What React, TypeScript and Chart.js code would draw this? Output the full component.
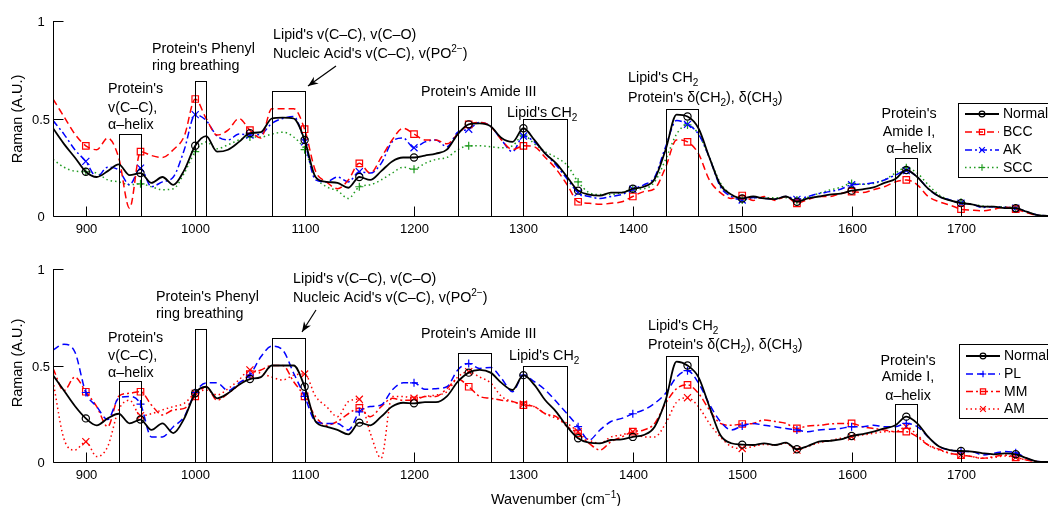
import React, { useEffect, useRef } from 'react';
import { Chart, registerables } from 'chart.js';

Chart.register(...registerables);

// ---------------- DATA ----------------
const wavenumbers = [
  870, 880, 890, 900, 910, 920, 930, 940, 950, 960,
  970, 980, 990, 1000, 1010, 1020, 1030, 1040, 1050, 1060,
  1070, 1080, 1090, 1100, 1110, 1120, 1130, 1140, 1150, 1160,
  1170, 1180, 1190, 1200, 1210, 1220, 1230, 1240, 1250, 1260,
  1270, 1280, 1290, 1300, 1310, 1320, 1330, 1340, 1350, 1360,
  1370, 1380, 1390, 1400, 1410, 1420, 1430, 1440, 1450, 1460,
  1470, 1480, 1490, 1500, 1510, 1520, 1530, 1540, 1550, 1560,
  1570, 1580, 1590, 1600, 1610, 1620, 1630, 1640, 1650, 1660,
  1670, 1680, 1690, 1700, 1710, 1720, 1730, 1740, 1750, 1760,
  1770, 1780,
];

const topNormal = [
  0.45, 0.37, 0.30, 0.227, 0.20, 0.23, 0.265, 0.21, 0.22, 0.17,
  0.20, 0.16, 0.235, 0.36, 0.41, 0.33, 0.34, 0.38, 0.425, 0.43,
  0.50, 0.505, 0.50, 0.39, 0.20, 0.175, 0.17, 0.145, 0.20, 0.185,
  0.23, 0.28, 0.30, 0.30, 0.31, 0.32, 0.34, 0.42, 0.47, 0.475,
  0.46, 0.40, 0.38, 0.45, 0.39, 0.32, 0.27, 0.20, 0.13, 0.11,
  0.105, 0.12, 0.12, 0.14, 0.15, 0.19, 0.34, 0.52, 0.51, 0.45,
  0.30, 0.16, 0.11, 0.09, 0.10, 0.09, 0.087, 0.10, 0.073, 0.09,
  0.10, 0.11, 0.115, 0.13, 0.137, 0.147, 0.17, 0.19, 0.236, 0.20,
  0.14, 0.10, 0.08, 0.066, 0.06, 0.048, 0.048, 0.04, 0.04, 0.022,
  0.005, 0,
];
const topBCC = [
  0.60, 0.51, 0.42, 0.36, 0.34, 0.40, 0.30, 0.04, 0.33, 0.31,
  0.30, 0.34, 0.41, 0.60, 0.50, 0.415, 0.44, 0.50, 0.44, 0.40,
  0.55, 0.55, 0.55, 0.445, 0.23, 0.175, 0.14, 0.185, 0.27, 0.22,
  0.30, 0.39, 0.45, 0.42, 0.39, 0.39, 0.37, 0.42, 0.47, 0.48,
  0.46, 0.39, 0.34, 0.36, 0.355, 0.30, 0.24, 0.16, 0.073, 0.065,
  0.06, 0.065, 0.073, 0.10, 0.125, 0.14, 0.25, 0.39, 0.38, 0.32,
  0.185, 0.12, 0.09, 0.105, 0.08, 0.10, 0.08, 0.10, 0.065, 0.085,
  0.10, 0.10, 0.115, 0.125, 0.12, 0.135, 0.15, 0.175, 0.185, 0.16,
  0.10, 0.073, 0.056, 0.035, 0.03, 0.027, 0.035, 0.045, 0.035, 0.017,
  0.003, 0,
];
const topAK = [
  0.49, 0.42, 0.34, 0.28, 0.20, 0.25, 0.235, 0.16, 0.245, 0.15,
  0.175, 0.20, 0.34, 0.52, 0.49, 0.41, 0.39, 0.42, 0.415, 0.42,
  0.475, 0.50, 0.51, 0.38, 0.185, 0.175, 0.20, 0.175, 0.227, 0.22,
  0.27, 0.38, 0.40, 0.35, 0.38, 0.39, 0.355, 0.43, 0.445, 0.48,
  0.46, 0.39, 0.33, 0.41, 0.38, 0.32, 0.26, 0.19, 0.12, 0.10,
  0.09, 0.10, 0.11, 0.137, 0.16, 0.20, 0.355, 0.49, 0.47, 0.42,
  0.30, 0.15, 0.10, 0.082, 0.095, 0.09, 0.087, 0.10, 0.085, 0.10,
  0.115, 0.125, 0.137, 0.16, 0.163, 0.17, 0.185, 0.21, 0.233, 0.20,
  0.14, 0.10, 0.082, 0.065, 0.06, 0.044, 0.048, 0.044, 0.04, 0.022,
  0.005, 0,
];
const topSCC = [
  0.29, 0.25, 0.23, 0.227, 0.22, 0.185, 0.175, 0.16, 0.165, 0.15,
  0.135, 0.14, 0.22, 0.33, 0.38, 0.345, 0.365, 0.39, 0.405, 0.405,
  0.42, 0.43, 0.405, 0.34, 0.20, 0.15, 0.13, 0.09, 0.15, 0.16,
  0.185, 0.22, 0.25, 0.24, 0.27, 0.29, 0.30, 0.34, 0.36, 0.36,
  0.355, 0.35, 0.36, 0.415, 0.37, 0.33, 0.30, 0.26, 0.175, 0.12,
  0.11, 0.11, 0.12, 0.137, 0.14, 0.175, 0.29, 0.42, 0.467, 0.42,
  0.30, 0.17, 0.11, 0.082, 0.094, 0.094, 0.094, 0.094, 0.082, 0.096,
  0.116, 0.133, 0.147, 0.167, 0.163, 0.167, 0.185, 0.22, 0.248, 0.22,
  0.16, 0.108, 0.082, 0.07, 0.06, 0.051, 0.048, 0.048, 0.04, 0.022,
  0.005, 0,
];

const botNormal = [
  0.45, 0.37, 0.29, 0.226, 0.19, 0.226, 0.25, 0.20, 0.22, 0.166,
  0.20, 0.15, 0.226, 0.356, 0.39, 0.33, 0.356, 0.40, 0.43, 0.44,
  0.50, 0.50, 0.50, 0.39, 0.21, 0.183, 0.166, 0.143, 0.204, 0.19,
  0.235, 0.287, 0.307, 0.304, 0.31, 0.31, 0.34, 0.416, 0.463, 0.477,
  0.463, 0.41, 0.373, 0.45, 0.40, 0.32, 0.26, 0.183, 0.123, 0.10,
  0.097, 0.114, 0.117, 0.13, 0.14, 0.183, 0.32, 0.52, 0.50, 0.44,
  0.287, 0.14, 0.097, 0.09, 0.088, 0.097, 0.088, 0.10, 0.066, 0.083,
  0.105, 0.11, 0.117, 0.135, 0.145, 0.157, 0.174, 0.19, 0.235, 0.20,
  0.13, 0.08, 0.062, 0.057, 0.054, 0.045, 0.04, 0.045, 0.04, 0.02,
  0.002, 0,
];
const botPL = [
  0.58, 0.61, 0.57, 0.36, 0.287, 0.22, 0.33, 0.34, 0.30, 0.13,
  0.13, 0.183, 0.235, 0.36, 0.41, 0.41, 0.37, 0.41, 0.45, 0.545,
  0.60, 0.58, 0.46, 0.34, 0.21, 0.20, 0.20, 0.166, 0.26, 0.287,
  0.295, 0.373, 0.41, 0.41, 0.377, 0.38, 0.39, 0.477, 0.51, 0.485,
  0.49, 0.433, 0.364, 0.45, 0.416, 0.373, 0.313, 0.25, 0.183, 0.114,
  0.166, 0.21, 0.226, 0.25, 0.27, 0.304, 0.356, 0.44, 0.473, 0.41,
  0.30, 0.21, 0.166, 0.187, 0.20, 0.19, 0.183, 0.174, 0.166, 0.157,
  0.166, 0.17, 0.174, 0.183, 0.183, 0.19, 0.183, 0.183, 0.20, 0.183,
  0.13, 0.08, 0.062, 0.054, 0.054, 0.036, 0.045, 0.054, 0.048, 0.02,
  0.002, 0,
];
const botMM = [
  0.485, 0.37, 0.44, 0.364, 0.287, 0.183, 0.34, 0.356, 0.364, 0.295,
  0.244, 0.27, 0.278, 0.34, 0.39, 0.32, 0.356, 0.40, 0.456, 0.477,
  0.50, 0.50, 0.416, 0.34, 0.235, 0.19, 0.21, 0.25, 0.28, 0.235,
  0.287, 0.33, 0.32, 0.32, 0.34, 0.34, 0.38, 0.43, 0.39, 0.34,
  0.33, 0.32, 0.313, 0.295, 0.287, 0.25, 0.235, 0.183, 0.148, 0.097,
  0.062, 0.105, 0.13, 0.157, 0.166, 0.20, 0.304, 0.38, 0.40, 0.356,
  0.27, 0.20, 0.19, 0.197, 0.20, 0.218, 0.21, 0.20, 0.174, 0.187,
  0.19, 0.197, 0.20, 0.20, 0.183, 0.174, 0.166, 0.157, 0.157, 0.13,
  0.088, 0.066, 0.045, 0.036, 0.028, 0.019, 0.028, 0.036, 0.024, 0.01,
  0.002, 0,
];
const botAM = [
  0.42, 0.12, 0.062, 0.105, 0.028, 0.08, 0.27, 0.32, 0.24, 0.25,
  0.27, 0.287, 0.304, 0.356, 0.373, 0.347, 0.38, 0.425, 0.477, 0.46,
  0.44, 0.425, 0.45, 0.456, 0.34, 0.287, 0.235, 0.313, 0.325, 0.15,
  0.02, 0.34, 0.34, 0.33, 0.34, 0.347, 0.364, 0.44, 0.468, 0.44,
  0.41, 0.34, 0.313, 0.30, 0.287, 0.25, 0.226, 0.20, 0.157, 0.114,
  0.097, 0.13, 0.14, 0.157, 0.13, 0.13, 0.20, 0.31, 0.333, 0.287,
  0.20, 0.13, 0.08, 0.07, 0.08, 0.091, 0.088, 0.097, 0.062, 0.08,
  0.10, 0.11, 0.123, 0.13, 0.14, 0.148, 0.157, 0.157, 0.183, 0.14,
  0.088, 0.062, 0.045, 0.036, 0.028, 0.019, 0.024, 0.031, 0.024, 0.01,
  0.002, 0,
];

const xTicks = [900, 1000, 1100, 1200, 1300, 1400, 1500, 1600, 1700];
const yTicks = [0, 0.5, 1];
const yTickLabels = ['0', '0.5', '1'];

// annotation boxes (band start, band end, height)
const boxStart = [930, 1000, 1070, 1240, 1300, 1430, 1640];
const boxEnd = [950, 1010, 1100, 1270, 1340, 1460, 1660];
const boxTop = [0.42, 0.69, 0.64, 0.565, 0.5, 0.55, 0.3];

// ---------------- STYLE ----------------
const FONT = '"Liberation Sans", Arial, Helvetica, sans-serif';
const RED = '#ff0000';
const BLUE = '#0000ff';
const GREEN = '#1f9a1f';
const BLACK = '#000000';
const CANVAS_W = 1100;
const X_MIN = 870;
const X_MAX = 1800;
const PLOT_LEFT = 53;
const PLOT_RIGHT = 1070.4;
const NOTE_SIZE = 14.3;
const SMALL_SIZE = 10;

type Seg = { t: string; sub?: boolean; sup?: boolean };
type Note = { x: number; y: number; center?: boolean; segs: Seg[] };
type Series = { label: string; values: number[]; color: string; dash: number[]; width: number; marker: string; r: number };

const topSeries: Series[] = [
  { label: 'Normal', values: topNormal, color: BLACK, dash: [], width: 1.8, marker: 'circle', r: 3.6 },
  { label: 'BCC', values: topBCC, color: RED, dash: [7, 4], width: 1.5, marker: 'rect', r: 4.6 },
  { label: 'AK', values: topAK, color: BLUE, dash: [7, 3, 2, 3], width: 1.5, marker: 'crossRot', r: 5 },
  { label: 'SCC', values: topSCC, color: GREEN, dash: [1.5, 3], width: 1.5, marker: 'cross', r: 4 },
];
const botSeries: Series[] = [
  { label: 'Normal', values: botNormal, color: BLACK, dash: [], width: 1.8, marker: 'circle', r: 3.6 },
  { label: 'PL', values: botPL, color: BLUE, dash: [7, 4], width: 1.5, marker: 'cross', r: 4 },
  { label: 'MM', values: botMM, color: RED, dash: [7, 3, 2, 3], width: 1.5, marker: 'rect', r: 4.6 },
  { label: 'AM', values: botAM, color: RED, dash: [1.5, 3], width: 1.5, marker: 'crossRot', r: 5 },
];

const lipidLine1: Seg[] = [{ t: "Lipid's v(C–C), v(C–O)" }];
const lipidLine2: Seg[] = [{ t: "Nucleic Acid's v(C–C), v(PO" }, { t: '2−', sup: true }, { t: ')' }];
const ch2: Seg[] = [{ t: "Lipid's CH" }, { t: '2', sub: true }];
const deltaLine: Seg[] = [{ t: "Protein's δ(CH" }, { t: '2', sub: true }, { t: '), δ(CH' }, { t: '3', sub: true }, { t: ')' }];

const topNotes: Note[] = [
  { x: 108, y: 93, segs: [{ t: "Protein's" }] },
  { x: 108, y: 111.5, segs: [{ t: 'v(C–C),' }] },
  { x: 108, y: 129, segs: [{ t: 'α–helix' }] },
  { x: 152, y: 53, segs: [{ t: "Protein's Phenyl" }] },
  { x: 152, y: 70, segs: [{ t: 'ring breathing' }] },
  { x: 273, y: 38.5, segs: lipidLine1 },
  { x: 273, y: 57.5, segs: lipidLine2 },
  { x: 421, y: 95.5, segs: [{ t: "Protein's Amide III" }] },
  { x: 507, y: 116.5, segs: ch2 },
  { x: 628, y: 82, segs: ch2 },
  { x: 628, y: 101.5, segs: deltaLine },
  { x: 909, y: 118, center: true, segs: [{ t: "Protein's" }] },
  { x: 909, y: 135.5, center: true, segs: [{ t: 'Amide I,' }] },
  { x: 909, y: 153, center: true, segs: [{ t: 'α–helix' }] },
];
const botNotes: Note[] = [
  { x: 108, y: 342, segs: [{ t: "Protein's" }] },
  { x: 108, y: 360, segs: [{ t: 'v(C–C),' }] },
  { x: 108, y: 377, segs: [{ t: 'α–helix' }] },
  { x: 156, y: 301, segs: [{ t: "Protein's Phenyl" }] },
  { x: 156, y: 318, segs: [{ t: 'ring breathing' }] },
  { x: 293, y: 283, segs: lipidLine1 },
  { x: 293, y: 302, segs: lipidLine2 },
  { x: 421, y: 338, segs: [{ t: "Protein's Amide III" }] },
  { x: 509, y: 360, segs: ch2 },
  { x: 648, y: 329.5, segs: ch2 },
  { x: 648, y: 349, segs: deltaLine },
  { x: 908, y: 364.5, center: true, segs: [{ t: "Protein's" }] },
  { x: 908, y: 381, center: true, segs: [{ t: 'Amide I,' }] },
  { x: 908, y: 400, center: true, segs: [{ t: 'α–helix' }] },
];

type Panel = {
  key: string; top: number; height: number; plotTop: number; plotBottom: number;
  series: Series[]; notes: Note[]; arrow: number[];
  legend: { x: number; y: number; w: number; h: number; rows: number[] };
  yLabelY: number; xLabel: boolean;
};

const panels: Panel[] = [
  {
    key: 'top', top: 0, height: 245, plotTop: 21, plotBottom: 216,
    series: topSeries, notes: topNotes, arrow: [336, 66, 308, 86],
    legend: { x: 958, y: 103, w: 112, h: 74, rows: [114, 132, 150, 167.5] },
    yLabelY: 119, xLabel: false,
  },
  {
    key: 'bot', top: 245, height: 261, plotTop: 269, plotBottom: 462,
    series: botSeries, notes: botNotes, arrow: [316, 310, 302, 332],
    legend: { x: 959, y: 344, w: 112, h: 74, rows: [356, 374, 391.5, 409] },
    yLabelY: 363, xLabel: true,
  },
];

// ---------------- DRAW HELPERS ----------------
function drawRich(ctx: CanvasRenderingContext2D, segs: Seg[], x: number, y: number, center: boolean, size = NOTE_SIZE) {
  const parts = segs.map((s) => {
    const sz = s.sub || s.sup ? SMALL_SIZE : size;
    ctx.font = `${sz}px ${FONT}`;
    return { ...s, sz, w: ctx.measureText(s.t).width };
  });
  const total = parts.reduce((a, p) => a + p.w, 0);
  let cx = center ? x - total / 2 : x;
  ctx.textAlign = 'left';
  ctx.textBaseline = 'alphabetic';
  for (const p of parts) {
    ctx.font = `${p.sz}px ${FONT}`;
    ctx.fillText(p.t, cx, y + (p.sub ? 4 : p.sup ? -6 : 0));
    cx += p.w;
  }
}

function drawMarker(ctx: CanvasRenderingContext2D, style: string, x: number, y: number, r: number, color: string) {
  ctx.save();
  ctx.setLineDash([]);
  ctx.strokeStyle = color;
  ctx.lineWidth = 1.2;
  ctx.beginPath();
  if (style === 'circle') {
    ctx.arc(x, y, r, 0, Math.PI * 2);
  } else if (style === 'rect') {
    const s = Math.SQRT1_2 * r;
    ctx.rect(x - s, y - s, 2 * s, 2 * s);
  } else if (style === 'cross') {
    ctx.moveTo(x - r, y); ctx.lineTo(x + r, y);
    ctx.moveTo(x, y - r); ctx.lineTo(x, y + r);
  } else {
    const s = Math.SQRT1_2 * r;
    ctx.moveTo(x - s, y - s); ctx.lineTo(x + s, y + s);
    ctx.moveTo(x - s, y + s); ctx.lineTo(x + s, y - s);
  }
  ctx.stroke();
  ctx.restore();
}

function makeDecor(panel: Panel) {
  return {
    id: 'decor_' + panel.key,
    afterDatasetsDraw(chart: any) {
      const ctx: CanvasRenderingContext2D = chart.ctx;
      const xs = chart.scales.x;
      const ys = chart.scales.y;
      const area = chart.chartArea;
      ctx.save();
      ctx.translate(0, -panel.top);
      const off = panel.top;
      const L = Math.round(area.left) + 0.5;
      const B = Math.round(area.bottom + off) + 0.5;
      const T = area.top + off;
      const R = area.right;
      ctx.strokeStyle = '#000';
      ctx.fillStyle = '#000';
      ctx.lineWidth = 1;
      ctx.setLineDash([]);

      // band boxes
      boxStart.forEach((s, i) => {
        const x1 = Math.round(xs.getPixelForValue(s)) + 0.5;
        const x2 = Math.round(xs.getPixelForValue(boxEnd[i])) + 0.5;
        const y1 = Math.round(ys.getPixelForValue(boxTop[i]) + off) + 0.5;
        ctx.strokeRect(x1, y1, x2 - x1, B - y1);
      });

      // axes
      ctx.beginPath();
      ctx.moveTo(L, T);
      ctx.lineTo(L, B);
      ctx.lineTo(R, B);
      ctx.stroke();

      // x ticks
      ctx.font = `13px ${FONT}`;
      ctx.textAlign = 'center';
      ctx.textBaseline = 'alphabetic';
      xTicks.forEach((v) => {
        const px = Math.round(xs.getPixelForValue(v)) + 0.5;
        ctx.beginPath();
        ctx.moveTo(px, B);
        ctx.lineTo(px, B - 10);
        ctx.stroke();
        ctx.fillText(String(v), px, B + 16.5);
      });
      // y ticks
      ctx.textBaseline = 'middle';
      yTicks.forEach((v, i) => {
        const py = Math.round(ys.getPixelForValue(v) + off) + 0.5;
        ctx.beginPath();
        ctx.moveTo(L, py);
        ctx.lineTo(L + 10, py);
        ctx.stroke();
        ctx.fillText(yTickLabels[i], 41, py + 0.5);
      });

      // notes
      panel.notes.forEach((n) => drawRich(ctx, n.segs, n.x, n.y, !!n.center));

      // arrow
      const [ax0, ay0, ax1, ay1] = panel.arrow;
      const ang = Math.atan2(ay1 - ay0, ax1 - ax0);
      ctx.lineWidth = 1.2;
      ctx.beginPath();
      ctx.moveTo(ax0, ay0);
      ctx.lineTo(ax1, ay1);
      ctx.stroke();
      ctx.beginPath();
      ctx.moveTo(ax1, ay1);
      ctx.lineTo(ax1 - 11 * Math.cos(ang - 0.38), ay1 - 11 * Math.sin(ang - 0.38));
      ctx.lineTo(ax1 - 7 * Math.cos(ang), ay1 - 7 * Math.sin(ang));
      ctx.lineTo(ax1 - 11 * Math.cos(ang + 0.38), ay1 - 11 * Math.sin(ang + 0.38));
      ctx.closePath();
      ctx.fill();
      ctx.lineWidth = 1;

      // legend
      const lg = panel.legend;
      ctx.fillStyle = '#fff';
      ctx.fillRect(lg.x, lg.y, lg.w, lg.h);
      ctx.strokeStyle = '#000';
      ctx.strokeRect(lg.x + 0.5, lg.y + 0.5, lg.w, lg.h);
      panel.series.forEach((s, i) => {
        const ry = lg.rows[i];
        ctx.save();
        ctx.strokeStyle = s.color;
        ctx.lineWidth = s.width;
        ctx.setLineDash(s.dash);
        ctx.beginPath();
        ctx.moveTo(lg.x + 7, ry);
        ctx.lineTo(lg.x + 41, ry);
        ctx.stroke();
        ctx.restore();
        drawMarker(ctx, s.marker, lg.x + 24, ry, s.r * 0.8, s.color);
        ctx.fillStyle = '#000';
        ctx.font = `14px ${FONT}`;
        ctx.textAlign = 'left';
        ctx.textBaseline = 'middle';
        ctx.fillText(s.label, lg.x + 45, ry + 0.5);
      });

      // axis titles
      ctx.fillStyle = '#000';
      ctx.save();
      ctx.translate(18, panel.yLabelY);
      ctx.rotate(-Math.PI / 2);
      ctx.font = `14.5px ${FONT}`;
      ctx.textAlign = 'center';
      ctx.textBaseline = 'middle';
      ctx.fillText('Raman (A.U.)', 0, 0);
      ctx.restore();
      if (panel.xLabel) {
        drawRich(ctx, [{ t: 'Wavenumber (cm' }, { t: '−1', sup: true }, { t: ')' }], 556, 503.5, true, 14.5);
      }
      ctx.restore();
    },
  };
}

function makeConfig(panel: Panel): any {
  return {
    type: 'line',
    data: {
      datasets: panel.series.map((s) => ({
        label: s.label,
        data: wavenumbers.map((w, i) => ({ x: w, y: s.values[i] })),
        borderColor: s.color,
        borderDash: s.dash,
        borderWidth: s.width,
        fill: false,
        tension: 0.4,
        cubicInterpolationMode: 'monotone',
        pointStyle: s.marker,
        pointRadius: (c: any) => (wavenumbers[c.dataIndex] % 50 === 0 ? s.r : 0),
        pointHoverRadius: 0,
        pointBorderColor: s.color,
        pointBackgroundColor: 'rgba(255,255,255,0)',
        pointBorderWidth: 1.2,
      })),
    },
    options: {
      responsive: false,
      maintainAspectRatio: false,
      animation: false,
      events: [],
      layout: {
        padding: {
          left: PLOT_LEFT,
          right: CANVAS_W - PLOT_RIGHT,
          top: panel.plotTop - panel.top,
          bottom: panel.top + panel.height - panel.plotBottom,
        },
      },
      scales: {
        x: { type: 'linear', min: X_MIN, max: X_MAX, display: false },
        y: { type: 'linear', min: 0, max: 1, display: false },
      },
      plugins: { legend: { display: false }, tooltip: { enabled: false } },
    },
    plugins: [makeDecor(panel)],
  };
}

function PanelChart({ panel }: { panel: Panel }) {
  const ref = useRef<HTMLCanvasElement>(null);
  useEffect(() => {
    const chart = new Chart(ref.current as HTMLCanvasElement, makeConfig(panel));
    return () => chart.destroy();
  }, [panel]);
  return (
    <canvas
      ref={ref}
      width={CANVAS_W}
      height={panel.height}
      style={{ position: 'absolute', left: 0, top: panel.top, width: CANVAS_W, height: panel.height }}
    />
  );
}

export default function App() {
  return (
    <div style={{ position: 'fixed', left: 0, top: 0, width: 1048, height: 506, overflow: 'hidden', background: '#fff' }}>
      {panels.map((p) => (
        <PanelChart key={p.key} panel={p} />
      ))}
    </div>
  );
}
